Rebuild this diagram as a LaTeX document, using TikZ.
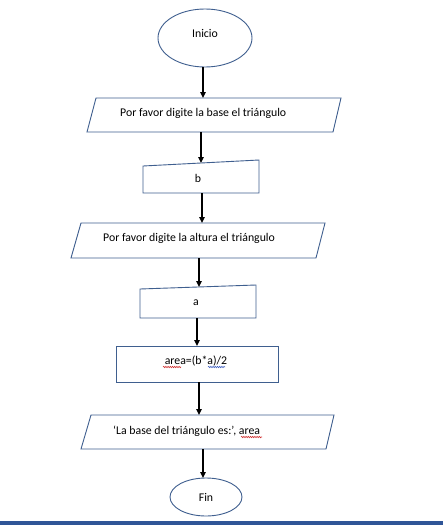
\documentclass[tikz,border=0pt]{standalone}
\usepackage{fontspec}
\setmainfont{Carlito}
\usetikzlibrary{arrows.meta,decorations.pathmorphing}
\definecolor{outl}{HTML}{3F5F8F}
\definecolor{barblue}{HTML}{2F5597}
\definecolor{spellred}{HTML}{D03030}
\definecolor{spellblue}{HTML}{4060C0}
\tikzset{
  shapeline/.style={draw=outl, line width=0.9pt, fill=white},
  txt/.style={font=\fontsize{11.8}{14}\selectfont, inner sep=0pt},
  flow/.style={draw=black, line width=1.6pt, -{Triangle[length=6pt,width=5.5pt]}},
  squig/.style={line width=0.6pt, decorate, decoration={snake, amplitude=0.7pt, segment length=2.2pt}}
}
\begin{document}
\begin{tikzpicture}[x=1pt,y=-1pt]
\useasboundingbox (0,0) rectangle (443,525);
\fill[white] (0,0) rectangle (443,525);
% bottom bar
\fill[barblue] (0,521) rectangle (443,525);

% Inicio
\draw[shapeline] (205,38) ellipse [x radius=47, y radius=29];
\node[txt] (inicio) at (205,33) {Inicio};
\coordinate (inicioB) at (203,67);

% parallelogram 1
\draw[shapeline] (96,98) -- (341,98) -- (333,132) -- (87,132) -- cycle;
\node[txt, anchor=west] (p1) at (120,113) {Por favor digite la base el triángulo};
\coordinate (p1T) at (203,98);
\coordinate (p1B) at (201,132);

% manual input b
\draw[shapeline] (143,166) -- (259,160) -- (259,193) -- (143,193) -- cycle;
\node[txt] (b) at (198,178) {b};
\coordinate (bT) at (201,163);
\coordinate (bB) at (202,193);

% parallelogram 2
\draw[shapeline] (81,223) -- (325,223) -- (316,258) -- (71,258) -- cycle;
\node[txt, anchor=west] (p2) at (103,238) {Por favor digite la altura el triángulo};
\coordinate (p2T) at (202,223);
\coordinate (p2B) at (199,258);

% manual input a
\draw[shapeline] (140,289) -- (256,285) -- (256,318) -- (140,318) -- cycle;
\node[txt] (a) at (196,303) {a};
\coordinate (aT) at (199,287);
\coordinate (aB) at (197,318);

% process
\draw[shapeline] (116,346) rectangle (278,382);
\node[txt] (proc) at (196,361) {area=(b*a)/2};
\draw[squig, spellred] (163,367) -- (181,367);
\draw[squig, spellblue] (208,367) -- (225,367);
\coordinate (procT) at (197,346);
\coordinate (procB) at (199,382);

% parallelogram 3
\draw[shapeline] (91,415) -- (334,415) -- (326,449) -- (81,449) -- cycle;
\node[txt, anchor=west] (p3) at (113,431) {‘La base del triángulo es:’, area};
\draw[squig, spellred] (241,437) -- (262,437);
\coordinate (p3T) at (199,415);
\coordinate (p3B) at (203,449);

% Fin
\draw[shapeline] (206,497) ellipse [x radius=36, y radius=19];
\node[txt] (fin) at (206,497) {Fin};
\coordinate (finT) at (203,478);

% connectors
\draw[flow] (inicioB) -- (p1T);
\draw[flow] (p1B) -- (bT);
\draw[flow] (bB) -- (p2T);
\draw[flow] (p2B) -- (aT);
\draw[flow] (aB) -- (procT);
\draw[flow] (procB) -- (p3T);
\draw[flow] (p3B) -- (finT);
\end{tikzpicture}
\end{document}
